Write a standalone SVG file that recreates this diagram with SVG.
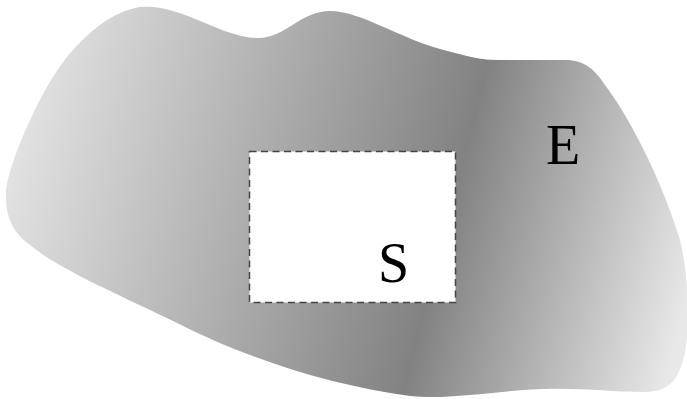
<svg xmlns="http://www.w3.org/2000/svg" width="687" height="399" viewBox="0 0 687 399">
<defs>
<linearGradient id="g" gradientUnits="userSpaceOnUse" x1="0" y1="0" x2="717" y2="182">
<stop offset="0" stop-color="#ededed"/>
<stop offset="0.66" stop-color="#828282"/>
<stop offset="1" stop-color="#e8e8e8"/>
</linearGradient>
</defs>
<style>
.lbl{font-family:"Liberation Serif","DejaVu Serif",serif;font-size:56px;fill:#000}
</style>
<g id="E">
<path d="M140,7 C180,3 220,37 257,38 C285,39 300,11 330,11 C360,11 400,38 440,49 C470,57 480,60 500,60 L565,60 C585,60 595,70 605,85 C635,125 665,190 680,240 C690,280 690,340 683,360 C678,378 670,392 645,392 C610,392 585,388 545,389 C500,390 450,400 410,396 C330,385 250,360 175,322 C120,295 60,270 30,245 C12,232 5,215 6,192 C8,165 40,90 67,57 C90,30 112,12 140,7 Z" fill="url(#g)"/>
<text class="lbl" x="546" y="164">E</text>
</g>
<g id="S">
<rect x="249.5" y="151.5" width="206" height="151" fill="#fff" stroke="#444" stroke-width="1.5" stroke-dasharray="7,4.5"/>
<text class="lbl" x="378" y="282">S</text>
</g>
</svg>
